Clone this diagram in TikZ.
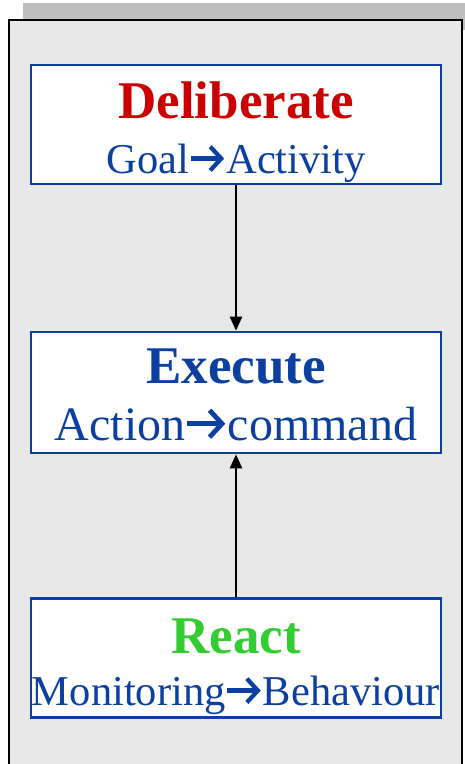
\documentclass[tikz,border=0pt]{standalone}
\usepackage{fontspec}
\setmainfont{Liberation Serif}
\usetikzlibrary{arrows.meta}
\definecolor{panelgray}{HTML}{E8E8E8}
\definecolor{shadowgray}{HTML}{BEBEBE}
\definecolor{boxblue}{HTML}{0B40A0}
\definecolor{txtblue}{HTML}{0B40A0}
\definecolor{titlered}{HTML}{CC0000}
\definecolor{titlegreen}{HTML}{33CC33}
\newcommand{\rarr}{\hspace{0.04em}\tikz[x=1em,y=1em,baseline=0pt]{%
  \useasboundingbox (0,0) rectangle (0.8,0.6);
  \draw[draw=txtblue, line width=0.1em] (0,0.34) -- (0.72,0.34);
  \draw[draw=txtblue, line width=0.1em, line join=miter, miter limit=10] (0.46,0.62) -- (0.72,0.34) -- (0.46,0.06);}\hspace{0.04em}}
\tikzset{
  layerbox/.style={draw=boxblue, line width=2.6pt, fill=white, rectangle, minimum width=410pt, minimum height=119pt, inner sep=0pt},
  titletext/.style={anchor=base, inner sep=0pt, font=\fontsize{53}{53}\selectfont\bfseries},
  subtext/.style={anchor=base, inner sep=0pt, text=txtblue},
  flow/.style={draw=black, line width=2.4pt, -{Triangle[length=14pt,width=12pt]}}
}
\begin{document}
\begin{tikzpicture}[x=1pt,y=-1pt]
\useasboundingbox (0,0) rectangle (465,764);
% shadow and panel
\fill[shadowgray] (23,3) rectangle (470,30);
\draw[black, line width=2pt, fill=panelgray] (9,20) rectangle (462,780);
% boxes
\node[layerbox] (delib) at (236,124.5) {};
\node[layerbox, minimum height=121pt] (exec) at (236,392.5) {};
\node[layerbox] (react) at (236,658) {};
% texts
\node[titletext, text=titlered] (delibT) at (236,118) {Deliberate};
\node[subtext, font=\fontsize{42.5}{42.5}\selectfont] (delibS) at (236,173) {Goal\rarr Activity};
\node[subtext, font=\fontsize{48}{48}\selectfont] (execS) at (236,440) {Action\rarr command};
\node[titletext, text=txtblue] (execT) at (236,383) {Execute};
\node[titletext, text=titlegreen] (reactT) at (236,653) {React};
\node[subtext, font=\fontsize{42.5}{42.5}\selectfont] (reactS) at (236,705) {Monitoring\rarr Behaviour};
% connectors
\draw[flow] (delib.south) -- (exec.north);
\draw[flow] (react.north) -- (exec.south);
\end{tikzpicture}
\end{document}
